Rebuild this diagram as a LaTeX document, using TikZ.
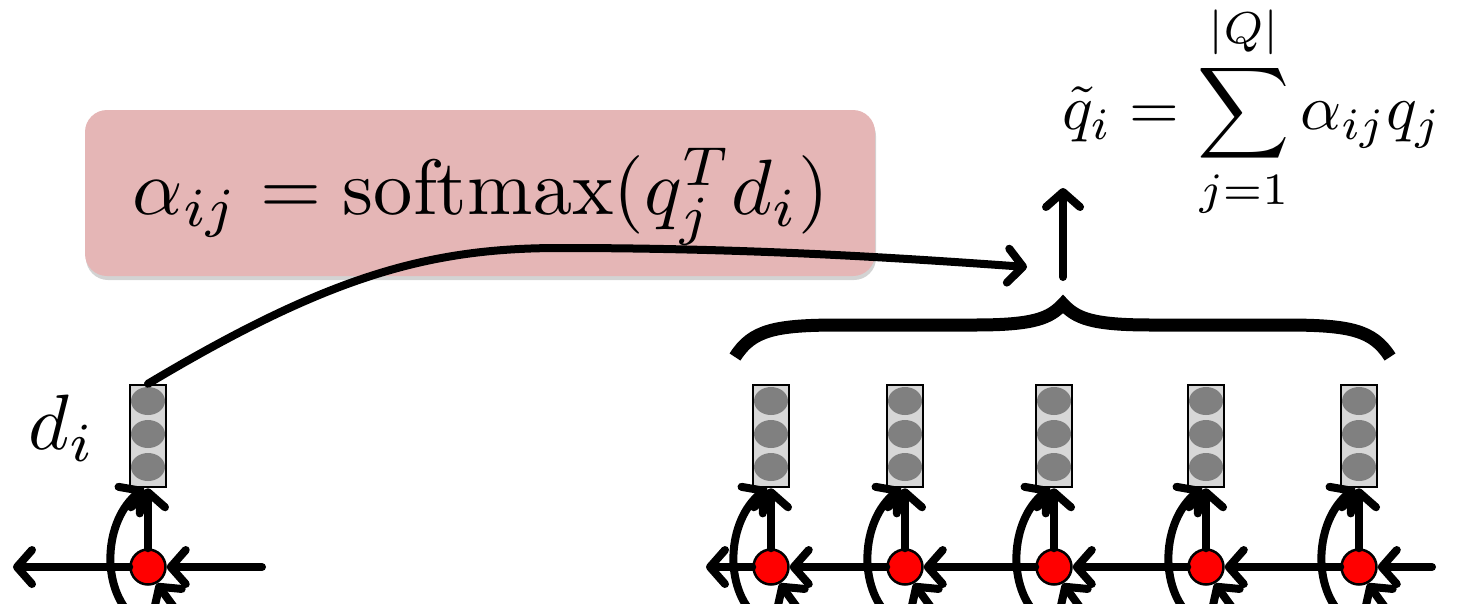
\documentclass[tikz,border=0pt]{standalone}
\usetikzlibrary{arrows.meta,shadows}
\definecolor{pinkbox}{RGB}{229,182,182}
\definecolor{cellgray}{RGB}{128,128,128}
\definecolor{cellbg}{RGB}{215,215,215}
\begin{document}
\begin{tikzpicture}[x=1pt,y=-1pt,
  conn/.style={line width=8pt,line cap=round,-{Straight Barb[length=15pt,width=34pt,round]}},
  cellbox/.style={draw,line width=2.5pt,fill=cellbg,minimum width=36pt,minimum height=102pt,inner sep=0pt},
  rnn/.style={circle,draw,line width=2.5pt,fill=red,minimum size=35pt,inner sep=0pt},
  dot/.style={fill=cellgray},
  mathlbl/.style={inner sep=0pt,scale=7.85}]
\useasboundingbox (0,0) rectangle (1472,603);
\clip (0,0) rectangle (1472,603);

% pink formula box
\node[rounded corners=22pt,fill=pinkbox,minimum width=790pt,minimum height=166pt,
      drop shadow={opacity=0.35,shadow xshift=1pt,shadow yshift=-4pt}] (box) at (480,193) {};
\node[mathlbl] (alpha) at (481,197) {$\alpha_{ij} = \mathrm{softmax}(q_j^T d_i)$};

% right formula
\node[inner sep=0pt,scale=6.4] (qt) at (1252,112) {$\displaystyle \tilde{q}_i = \sum_{j=1}^{|Q|} \alpha_{ij} q_j$};

% d_i label
\node[mathlbl] (dlbl) at (62,428) {$d_i$};

% units
\foreach \cx/\n in {148/0,771/1,905/2,1054/3,1206/4,1359/5}{
  \node[cellbox] (c\n) at (\cx,436) {};
  \fill[dot] (\cx,401) ellipse [x radius=17pt,y radius=14pt];
  \fill[dot] (\cx,434) ellipse [x radius=17pt,y radius=14pt];
  \fill[dot] (\cx,467) ellipse [x radius=17pt,y radius=14pt];
  \node[rnn] (r\n) at (\cx,567) {};
  \draw[conn] (r\n.north) -- (c\n.south);
  \coordinate (b\n) at (\cx-14,618);
  \draw[conn] (b\n) .. controls +(-34,-30) and +(-40,32) .. ([xshift=-4pt]c\n.south);
  \coordinate (e\n) at (\cx+36,621);
  \draw[conn] (e\n) -- (r\n.-62);
}

% horizontal recurrences
\coordinate (lin0) at (262,567);
\coordinate (lout0) at (13,567);
\draw[conn] (lin0) -- (r0.east);
\draw[conn] (r0.west) -- (lout0);
\coordinate (lin1) at (1432,567);
\coordinate (lout1) at (706,567);
\draw[conn] (lin1) -- (r5.east);
\draw[conn] (r5.west) -- (r4.east);
\draw[conn] (r4.west) -- (r3.east);
\draw[conn] (r3.west) -- (r2.east);
\draw[conn] (r2.west) -- (r1.east);
\draw[conn] (r1.west) -- (lout1);

% attention curve
\coordinate (tipA) at (1027,267);
\draw[conn] (c0.north) .. controls (330,275) and (430,248) .. (560,248)
  .. controls (750,248) and (900,258) .. (tipA);

% brace
\coordinate (brL) at (735,357);
\coordinate (brT) at (1063,304);
\coordinate (brR) at (1390,357);
\draw[line width=13pt] (brL) .. controls (752,330) and (775,325) .. (840,325)
  -- (975,325) .. controls (1035,325) and (1050,318) .. (brT)
  .. controls (1076,318) and (1091,325) .. (1151,325)
  -- (1285,325) .. controls (1350,325) and (1373,330) .. (brR);

% up arrow
\coordinate (up0) at (1063,277);
\coordinate (up1) at (1063,188);
\draw[conn] (up0) -- (up1);
\end{tikzpicture}
\end{document}
